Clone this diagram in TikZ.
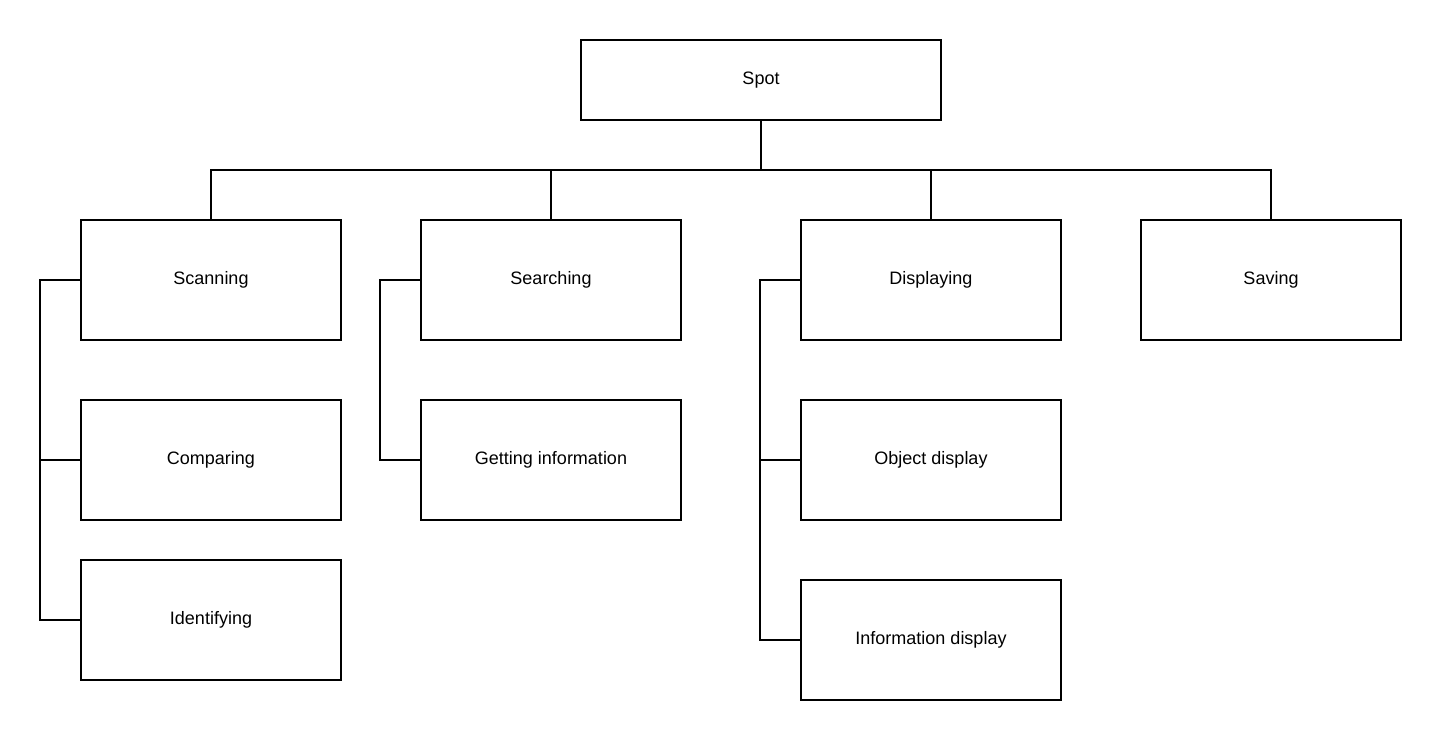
\documentclass[tikz,border=0pt]{standalone}
\usepackage{fontspec}
\setmainfont{Liberation Sans}
\usetikzlibrary{positioning}
\tikzset{
  box/.style={draw=black, line width=1pt, fill=white, minimum width=130pt, minimum height=60pt, inner sep=0pt, font=\fontsize{9pt}{11pt}\selectfont},
  link/.style={draw=black, line width=1pt}
}
\begin{document}
\begin{tikzpicture}[x=0.5pt, y=-0.5pt]
                \useasboundingbox (0, 0) rectangle (1441, 740);
                \node[box, minimum width=180pt, minimum height=40pt] (spot) at (761, 80) {Spot};
                \node[box] (scan) at (211, 280) {Scanning};
                \node[box] (search) at (551, 280) {Searching};
                \node[box] (disp) at (931, 280) {Displaying};
                \node[box] (save) at (1271, 280) {Saving};
                \node[box] (comp) at (211, 460) {Comparing};
                \node[box] (ident) at (211, 620) {Identifying};
                \node[box] (getinfo) at (551, 460) {Getting information};
                \node[box] (objdisp) at (931, 460) {Object display};
                \node[box] (infodisp) at (931, 640) {Information display};
                \coordinate (hub) at (761, 170);
                \draw[link] (spot.south) -- (hub);
                \draw[link] (scan.north) |- (hub) -| (save.north);
                \draw[link] (search.north) -- (search.north |- hub);
                \draw[link] (disp.north) -- (disp.north |- hub);
                \draw[link] (scan.west) -- ++(-40, 0) |- (ident.west);
                \draw[link] (comp.west) -- ++(-40, 0);
                \draw[link] (search.west) -- ++(-40, 0) |- (getinfo.west);
                \draw[link] (disp.west) -- ++(-40, 0) |- (infodisp.west);
                \draw[link] (objdisp.west) -- ++(-40, 0);
            \end{tikzpicture}
\end{document}
